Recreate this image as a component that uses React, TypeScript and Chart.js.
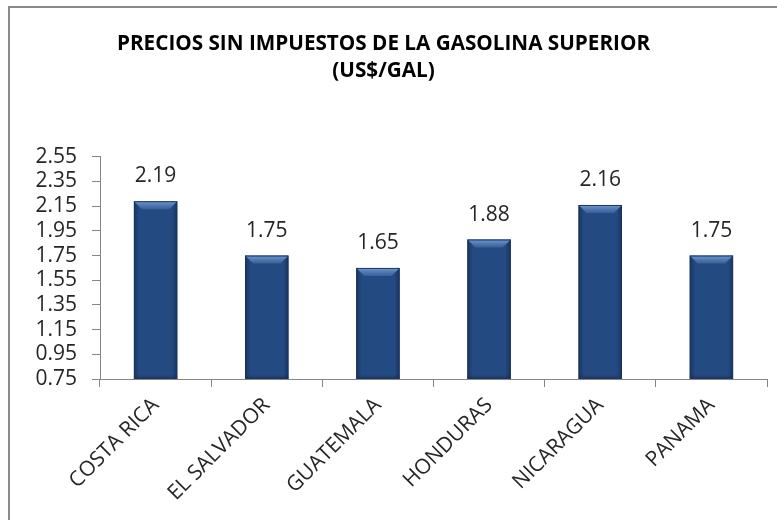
import React, { useEffect, useRef } from "react";
import { Chart, registerables } from "chart.js";

Chart.register(...registerables);

const categories = ["COSTA RICA", "EL SALVADOR", "GUATEMALA", "HONDURAS", "NICARAGUA", "PANAMA"];
const prices = [2.19, 1.75, 1.65, 1.88, 2.16, 1.75];
const titleLines = ["PRECIOS SIN IMPUESTOS DE LA GASOLINA SUPERIOR", "(US$/GAL)"];
const yMin = 0.75;
const yMax = 2.55;
const yStep = 0.2;

const FONT = '"Open Sans", Lato, sans-serif';
const AXIS_GRAY = "#868686";

const bevelPlugin = {
  id: "bevel",
  afterDatasetsDraw(chart: any) {
    const ctx = chart.ctx;
    const meta = chart.getDatasetMeta(0);
    const area = chart.chartArea;
    meta.data.forEach((bar: any) => {
      const { x, y, base, width } = bar.getProps(["x", "y", "base", "width"], true);
      const bottom = Math.min(base, area.bottom);
      const left = x - width / 2;
      const right = x + width / 2;
      const h = bottom - y;
      ctx.save();
      const g = ctx.createLinearGradient(left, 0, right, 0);
      g.addColorStop(0, "rgba(10,25,55,0.45)");
      g.addColorStop(0.12, "rgba(10,25,55,0.0)");
      g.addColorStop(0.88, "rgba(10,25,55,0.0)");
      g.addColorStop(1, "rgba(10,25,55,0.45)");
      ctx.fillStyle = g;
      ctx.fillRect(left, y, width, h);
      const bv = Math.min(8, h / 2);
      const tg = ctx.createLinearGradient(0, y, 0, y + bv);
      tg.addColorStop(0, "rgba(120,160,215,0.95)");
      tg.addColorStop(1, "rgba(70,110,170,0.6)");
      ctx.fillStyle = tg;
      ctx.beginPath();
      ctx.moveTo(left, y);
      ctx.lineTo(right, y);
      ctx.lineTo(right - bv, y + bv);
      ctx.lineTo(left + bv, y + bv);
      ctx.closePath();
      ctx.fill();
      const bg = ctx.createLinearGradient(0, bottom - 5, 0, bottom);
      bg.addColorStop(0, "rgba(10,25,55,0)");
      bg.addColorStop(1, "rgba(10,25,55,0.35)");
      ctx.fillStyle = bg;
      ctx.fillRect(left, bottom - 5, width, 5);
      ctx.strokeStyle = "#1a3560";
      ctx.lineWidth = 1;
      ctx.strokeRect(left + 0.5, y + 0.5, width - 1, h - 1);
      ctx.restore();
    });
  },
};

const labelPlugin = {
  id: "valueLabels",
  afterDatasetsDraw(chart: any) {
    const ctx = chart.ctx;
    const meta = chart.getDatasetMeta(0);
    ctx.save();
    ctx.font = `21px ${FONT}`;
    ctx.fillStyle = "#262626";
    ctx.textAlign = "center";
    ctx.textBaseline = "middle";
    meta.data.forEach((bar: any, i: number) => {
      ctx.fillText(prices[i].toFixed(2), bar.x, bar.y - 25);
    });
    ctx.restore();
  },
};

export default function App() {
  const ref = useRef<HTMLCanvasElement>(null);

  useEffect(() => {
    document.documentElement.style.overflow = "hidden";
    document.body.style.overflow = "hidden";
    const chart = new Chart(ref.current!, {
      type: "bar",
      data: {
        labels: categories,
        datasets: [
          {
            data: prices,
            backgroundColor: "#244a82",
            borderWidth: 0,
            barPercentage: 0.39,
            categoryPercentage: 1,
          },
        ],
      },
      options: {
        animation: false,
        responsive: false,
        layout: { padding: { left: 0, right: 10, top: 0, bottom: 0 } },
        plugins: {
          legend: { display: false },
          tooltip: { enabled: false },
          title: {
            display: true,
            text: titleLines,
            color: "#000",
            font: { family: FONT, size: 20.7, weight: "bold", lineHeight: 1.3 },
            padding: { top: 30.5, bottom: 72.5 },
          },
        },
        scales: {
          x: {
            grid: { display: true, drawOnChartArea: false, color: AXIS_GRAY, tickLength: 8, offset: true },
            border: { display: true, color: AXIS_GRAY, width: 1 },
            ticks: {
              color: "#262626",
              font: { family: FONT, size: 21 },
              minRotation: 45,
              maxRotation: 45,
              autoSkip: false,
              padding: 6,
            },
            afterFit: (s: any) => {
              s.height = 141;
            },
          },
          y: {
            min: yMin,
            max: yMax,
            grid: { display: true, drawOnChartArea: false, color: AXIS_GRAY, tickLength: 8 },
            border: { display: true, color: AXIS_GRAY, width: 1 },
            ticks: {
              stepSize: yStep,
              autoSkip: false,
              color: "#262626",
              font: { family: FONT, size: 21 },
              padding: 15,
              callback: (v: any) => Number(v).toFixed(2),
            },
            afterFit: (s: any) => {
              s.width = 100;
            },
          },
        },
      },
      plugins: [bevelPlugin, labelPlugin],
    });
    return () => chart.destroy();
  }, []);

  return (
    <div style={{ position: "fixed", left: 0, top: 0, width: 777, height: 520, overflow: "hidden", background: "#fff" }}>
      <div
        style={{
          position: "absolute",
          left: 8,
          top: 6,
          width: 800,
          height: 560,
          border: "2px solid #8a8a8a",
          boxSizing: "border-box",
        }}
      />
      <canvas ref={ref} width={777} height={520} style={{ position: "absolute", left: 0, top: 0, width: 777, height: 520 }} />
    </div>
  );
}
